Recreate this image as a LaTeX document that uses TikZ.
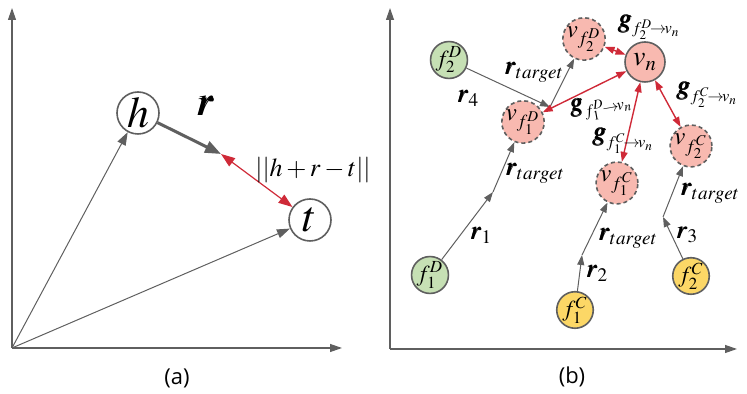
\documentclass[tikz,border=0pt]{standalone}
\usepackage{amsmath}
\usepackage{fontspec}
\setsansfont{Open Sans}
\usepackage{mathptmx}
\usepackage{bm}
\usepackage{tikz}
\usetikzlibrary{arrows.meta, positioning}
\definecolor{axisgray}{HTML}{5F5F5F}
\definecolor{linkred}{HTML}{CF2A38}
\definecolor{nodepink}{HTML}{F8B9B0}
\definecolor{nodegreen}{HTML}{C6E0B4}
\definecolor{nodeyellow}{HTML}{FCD766}
\newcommand{\gbig}{\mbox{\fontsize{13.5}{15}\selectfont$\bm{g}$}}

\begin{document}
\begin{tikzpicture}[x=0.5bp, y=-0.5bp,
    axis/.style={draw=axisgray, line width=0.6bp, -{Triangle[length=6bp, width=4bp]}},
    vec/.style={draw=axisgray, line width=0.5bp, -{Triangle[length=6.5bp, width=4.5bp]}},
    link/.style={draw=axisgray, line width=0.5bp, -{Triangle[length=5bp, width=3.5bp]}},
    rel/.style={draw=linkred, line width=0.7bp, {Triangle[length=5bp, width=3.5bp]}-{Triangle[length=5bp, width=3.5bp]}},
    bigcirc/.style={circle, draw=axisgray, line width=0.8bp, fill=white, minimum size=21bp, inner sep=0pt, font=\fontsize{22}{24}\selectfont},
    fnode/.style={circle, draw=axisgray, line width=0.8bp, minimum size=17bp, inner sep=0pt, font=\fontsize{11.5}{13}\selectfont},
    vnode/.style={fnode, fill=nodepink, dashed, dash pattern=on 2bp off 1.5bp, font=\fontsize{12.5}{14}\selectfont},
    lab/.style={inner sep=0pt, font=\fontsize{13}{15}\selectfont},
    glab/.style={inner sep=0pt, font=\fontsize{11}{13}\selectfont},
    captext/.style={font=\sffamily\fontsize{11}{13}\selectfont}]
  \useasboundingbox (0,0) rectangle (747,394);

  % (a)
  \coordinate (oa) at (12,348);
  \coordinate (oay) at (12,8);
  \coordinate (oax) at (342,348);
  \draw[axis] (oa) -- (oay);
  \draw[axis] (oa) -- (oax);

  \node[bigcirc] (h) at (138,113) {$h$};
  \node[bigcirc] (t) at (310,220) {$t$};
  \coordinate (hr) at (221,154);

  \draw[vec] (oa) -- (h);
  \draw[vec] (oa) -- (t);
  \draw[draw=axisgray, line width=1.5bp, -{Triangle[length=8bp, width=6bp]}] (h) -- (hr);
  \draw[rel, line width=0.6bp, {Triangle[length=7bp, width=5bp]}-{Triangle[length=7bp, width=5bp]}] (hr) -- (t);

  \node[font=\fontsize{20}{22}\selectfont] (rlab) at (205,106) {$\bm{r}$};
  \node[font=\fontsize{13}{15}\selectfont] (dist) at (313,170) {$||h+r-t||$};
  \node[captext] (capa) at (177,378) {(a)};

  % (b)
  \coordinate (ob) at (390,349);
  \coordinate (oby) at (390,8);
  \coordinate (obx) at (737,349);
  \draw[axis] (ob) -- (oby);
  \draw[axis] (ob) -- (obx);

  \node[fnode, fill=nodegreen] (f2D) at (449,60) {$f_2^D$};
  \node[fnode, fill=nodegreen] (f1D) at (430,275) {$f_1^D$};
  \node[fnode, fill=nodeyellow] (f1C) at (575,310) {$f_1^C$};
  \node[fnode, fill=nodeyellow] (f2C) at (691,276) {$f_2^C$};

  \node[vnode] (vf2D) at (584,39) {$v_{f_2^D}$};
  \node[vnode] (vf1D) at (523,122) {$v_{f_1^D}$};
  \node[vnode] (vf1C) at (617,183) {$v_{f_1^C}$};
  \node[vnode] (vf2C) at (691,146) {$v_{f_2^C}$};
  \node[fnode, fill=nodepink, minimum size=20bp, font=\fontsize{14}{16}\selectfont] (vn) at (645,62) {$v_n$};

  \coordinate (j4) at (550,107);
  \coordinate (j1) at (493,192);
  \coordinate (j2) at (582,255);
  \coordinate (j3) at (663,217);

  \draw[link] (f2D) -- (j4);
  \draw[link] (j4) -- (vf2D);
  \draw[link] (f1D) -- (j1);
  \draw[link] (j1) -- (vf1D);
  \draw[link] (f1C) -- (j2);
  \draw[link] (j2) -- (vf1C);
  \draw[link] (f2C) -- (j3);
  \draw[link] (j3) -- (vf2C);

  \draw[rel] (vf2D) -- (vn);
  \draw[rel] (vf1D) -- (vn);
  \draw[rel] (vf1C) -- (vn);
  \draw[rel] (vf2C) -- (vn);

  \node[lab] (lr4) at (468,98) {$\bm{r}_4$};
  \node[lab] (lt4) at (534,72) {$\bm{r}_{target}$};
  \node[lab] (lr1) at (481,235) {$\bm{r}_1$};
  \node[lab] (lt1) at (535,173) {$\bm{r}_{target}$};
  \node[lab] (lr2) at (597,273) {$\bm{r}_2$};
  \node[lab] (lt2) at (628,238) {$\bm{r}_{target}$};
  \node[lab] (lr3) at (687,235) {$\bm{r}_3$};
  \node[lab] (lt3) at (710,193) {$\bm{r}_{target}$};

  \node[glab] (g2D) at (649,27) {$\gbig_{f_2^D\!\to\! v_n}$};
  \node[glab, rotate=10] (g1D) at (601,107) {$\gbig_{f_1^D\!\to\! v_n}$};
  \node[glab] (g1C) at (623,141) {$\gbig_{f_1^C\!\to\! v_n}$};
  \node[glab] (g2C) at (707,95) {$\gbig_{f_2^C\!\to\! v_n}$};

  \node[captext] (capb) at (572,377) {(b)};
\end{tikzpicture}
\end{document}
